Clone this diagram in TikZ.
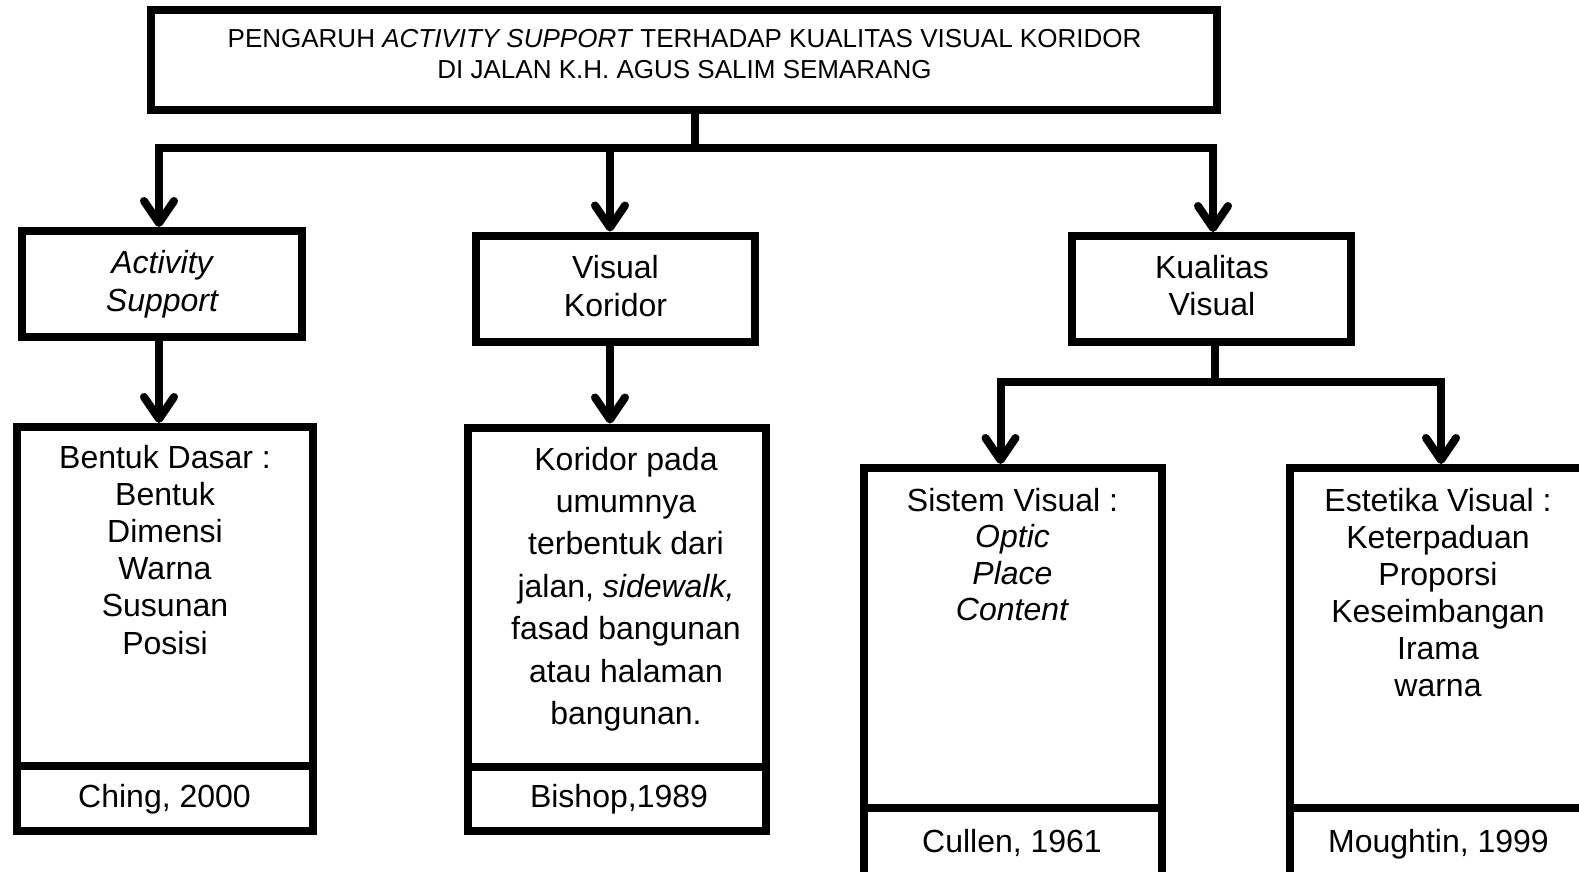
\documentclass[tikz,border=0pt]{standalone}
\usepackage{fontspec}
\setmainfont{Liberation Sans}
\usetikzlibrary{arrows.meta}
\begin{document}
\begin{tikzpicture}[x=1pt,y=-1pt,
  box/.style={draw=black, line width=8pt, inner sep=0pt},
  txt/.style={align=center, inner sep=0pt, anchor=base, font=\fontsize{32}{37.2}\selectfont},
  conn/.style={draw=black, line width=8pt},
  arr/.style={conn, -{Straight Barb[length=22pt,width=30pt,round]}}]
\useasboundingbox (0,0) rectangle (1579,871);
\clip (0,0) rectangle (1579,871);
% boxes
\node[box, minimum width=1066pt, minimum height=100pt] (top) at (684.25,60) {};
\node[box, minimum width=280pt, minimum height=106pt] (act) at (162,284) {};
\node[box, minimum width=279pt, minimum height=106.5pt] (vk) at (615,288.75) {};
\node[box, minimum width=279pt, minimum height=106pt] (kv) at (1211.5,289) {};
\node[box, minimum width=296pt, minimum height=339pt] (bentuk) at (165,596.5) {};
\node[box, minimum width=296pt, minimum height=65pt] (bentukcite) at (165,798.5) {};
\node[box, minimum width=298pt, minimum height=339pt] (kor) at (617,597) {};
\node[box, minimum width=298pt, minimum height=64.5pt] (korcite) at (617,798.75) {};
\node[box, minimum width=298pt, minimum height=340pt] (sis) at (1013,638) {};
\node[box, minimum width=298pt, minimum height=74pt] (siscite) at (1013,845) {};
\node[box, minimum width=302.5pt, minimum height=340pt] (est) at (1440.75,638) {};
\node[box, minimum width=302.5pt, minimum height=74pt] (estcite) at (1440.75,845) {};
% texts (anchor base = baseline of the last line)
\node[txt, font=\fontsize{26}{31.5}\selectfont] (toptext) at (684.5,78.5) {PENGARUH \textit{ACTIVITY SUPPORT} TERHADAP KUALITAS VISUAL KORIDOR\\DI JALAN K.H. AGUS SALIM SEMARANG};
\node[txt, font=\fontsize{32}{38}\selectfont\itshape] (acttext) at (162,311) {Activity\\Support};
\node[txt, font=\fontsize{32}{38}\selectfont] (vktext) at (615.5,316) {Visual\\Koridor};
\node[txt, font=\fontsize{32}{37}\selectfont] (kvtext) at (1212,315) {Kualitas\\Visual};
\node[txt] (bentuktext) at (165,654) {Bentuk Dasar :\\Bentuk\\Dimensi\\Warna\\Susunan\\Posisi};
\node[txt, font=\fontsize{32}{42.4}\selectfont] (kortext) at (626,724.4) {Koridor pada\\umumnya\\terbentuk dari\\jalan, \textit{sidewalk,}\\fasad bangunan\\atau halaman\\bangunan.};
\node[txt, font=\fontsize{32}{36.6}\selectfont] (sistext) at (1012.5,620.8) {Sistem Visual :\\\textit{Optic}\\\textit{Place}\\\textit{Content}};
\node[txt, font=\fontsize{32}{37}\selectfont] (esttext) at (1438,696) {Estetika Visual :\\Keterpaduan\\Proporsi\\Keseimbangan\\Irama\\warna};
\node[txt] (bentukcitetext) at (164.5,807) {Ching, 2000};
\node[txt] (korcitetext) at (619,807) {Bishop,1989};
\node[txt] (siscitetext) at (1012,852) {Cullen, 1961};
\node[txt] (estcitetext) at (1438.5,852) {Moughtin, 1999};
% connectors
\coordinate (j1) at (695,147.5);
\draw[conn] (top.south -| j1) -- (j1);
\draw[arr] (j1) -| ([xshift=-3pt]act.north);
\draw[arr] (j1) -| ([xshift=-5pt]vk.north);
\draw[arr] (j1) -| ([xshift=1.5pt]kv.north);
\draw[arr] ([xshift=-3pt]act.south) -- ([xshift=-6pt]bentuk.north);
\draw[arr] ([xshift=-5pt]vk.south) -- ([xshift=-7pt]kor.north);
\coordinate (j2) at (1214.5,382);
\draw[conn] (kv.south -| j2) -- (j2);
\draw[arr] (j2) -| ([xshift=-12.5pt]sis.north);
\draw[arr] (j2) -| ([xshift=0.25pt]est.north);
\end{tikzpicture}
\end{document}
